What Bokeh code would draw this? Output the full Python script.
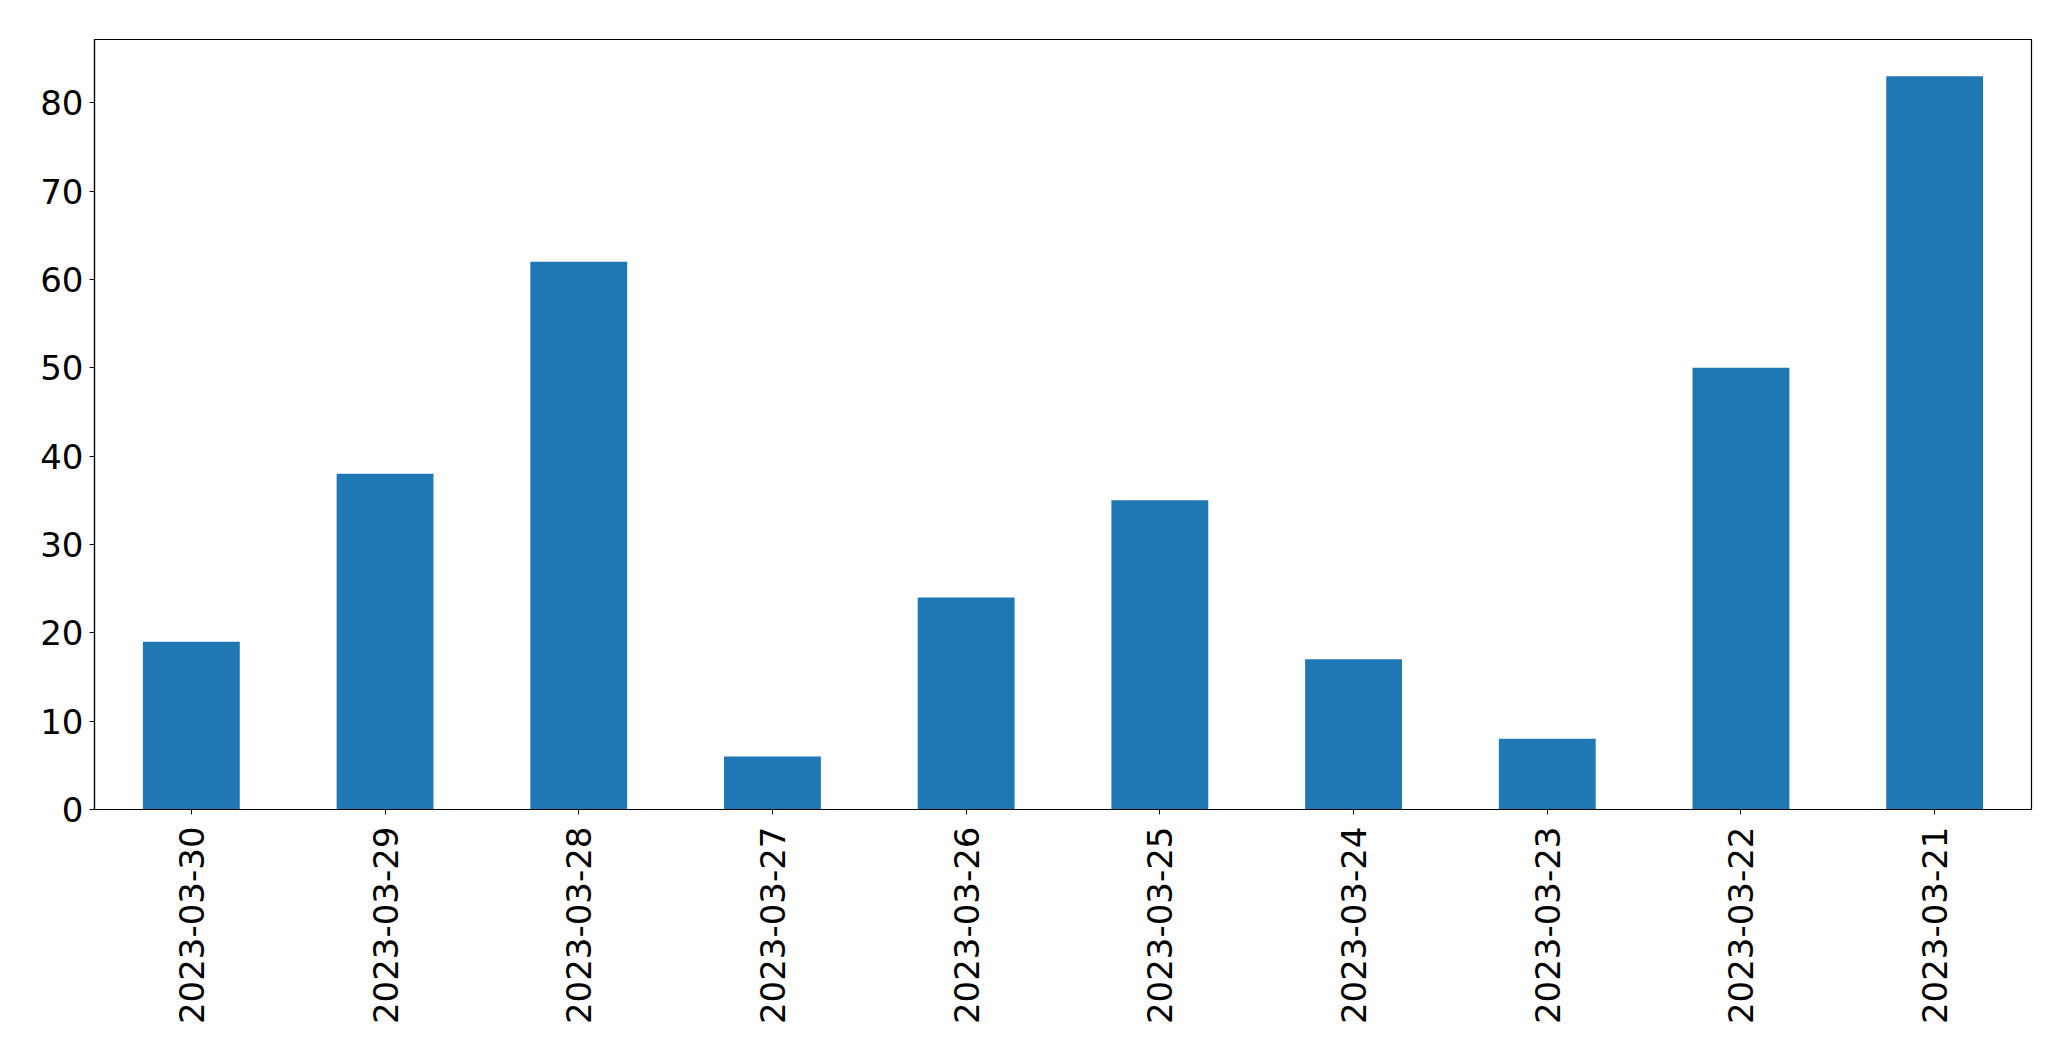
import math
from bokeh.plotting import figure
from bokeh.models import Range1d, FactorRange, FixedTicker, ColumnDataSource
from bokeh.embed import file_html
from bokeh.resources import INLINE

dates = ["2023-03-30", "2023-03-29", "2023-03-28", "2023-03-27", "2023-03-26",
         "2023-03-25", "2023-03-24", "2023-03-23", "2023-03-22", "2023-03-21"]
counts = [19, 38, 62, 6, 24, 35, 17, 8, 50, 83]
y_ticks = [0, 10, 20, 30, 40, 50, 60, 70, 80]

src = ColumnDataSource(dict(x=dates, top=counts))

p = figure(width=2055, height=1045, output_backend="svg", toolbar_location=None,
           x_range=FactorRange(*dates), y_range=Range1d(0, max(counts) * 1.05),
           min_border_left=94, min_border_right=24, min_border_top=39,
           min_border_bottom=236)
p.vbar(x="x", top="top", width=0.5, source=src, fill_color="#1f77b4",
       line_color=None)

p.xgrid.visible = False
p.ygrid.visible = False
p.outline_line_color = "black"
p.outline_line_width = 1.2
p.yaxis.ticker = FixedTicker(ticks=y_ticks)
for ax in (p.xaxis[0], p.yaxis[0]):
    ax.major_label_text_font = "DejaVu Sans"
    ax.major_label_text_font_size = "34px"
    ax.major_label_text_color = "black"
    ax.major_tick_out = 5
    ax.major_tick_in = 0
    ax.minor_tick_out = 0
    ax.minor_tick_in = 0
    ax.axis_line_color = "black"
    ax.axis_line_width = 1.2
    ax.major_tick_line_color = "black"
p.xaxis.major_label_standoff = 12
p.yaxis.major_label_standoff = 6
p.xaxis.major_label_orientation = math.pi / 2

open("out.html", "w").write(file_html(p, INLINE))
